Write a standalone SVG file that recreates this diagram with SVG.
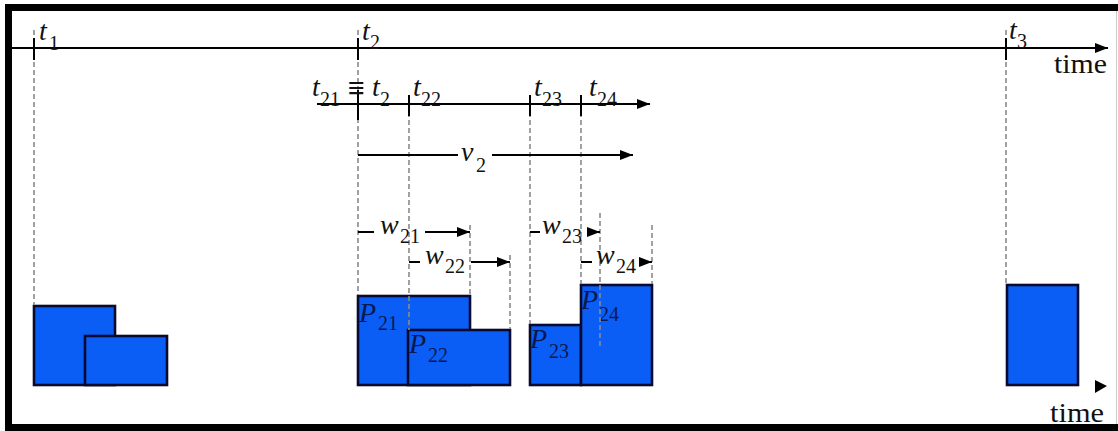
<svg xmlns="http://www.w3.org/2000/svg" width="1118" height="431" viewBox="0 0 1118 431">
<style>
.ax{stroke:#000;stroke-width:2;fill:none}
.tk{stroke:#000;stroke-width:2}
.ds{stroke:#8a8a8a;stroke-width:1.6;stroke-dasharray:5 3;fill:none}
.box{fill:#0b5ef5;stroke:#0a0a30;stroke-width:2.6}
text{font-family:"Liberation Serif","Times New Roman",Times,serif}
.it{font-style:italic;font-size:28px;fill:#111}
.sb{font-size:20px;fill:#111}
.rm{font-size:27px;fill:#111}
.eq{font-size:30px;font-weight:bold;fill:#111}
.pl{fill:#0a1850}
</style>
<defs>
<marker id="ah" markerUnits="userSpaceOnUse" markerWidth="14" markerHeight="10" refX="13" refY="5" orient="auto">
<path d="M0,0 L13,5 L0,10 z" fill="#000"/>
</marker>
</defs>
<rect x="0" y="0" width="1118" height="431" fill="#fff"/>

<g id="nodes">
<g id="box-t1a"><rect class="box" x="34" y="306" width="81" height="79"/></g>
<g id="box-t1b"><rect class="box" x="85" y="336" width="82" height="49"/></g>
<g id="P21"><rect class="box" x="358" y="296" width="112" height="89"/>
<text class="it pl" x="359" y="322">P</text><text class="sb pl" x="378" y="330">21</text></g>
<g id="P22"><rect class="box" x="408" y="330" width="102" height="55"/>
<text class="it pl" x="409" y="353">P</text><text class="sb pl" x="428" y="362">22</text></g>
<g id="P23"><rect class="box" x="530" y="325" width="51" height="60"/>
<text class="it pl" x="530" y="348">P</text><text class="sb pl" x="549" y="358">23</text></g>
<g id="P24"><rect class="box" x="581" y="285" width="71" height="100"/>
<text class="it pl" x="581" y="309">P</text><text class="sb pl" x="599" y="321">24</text></g>
<g id="box-t3"><rect class="box" x="1007" y="285" width="71" height="100"/></g>
</g>

<g id="connectors">
<line class="ax" x1="12" y1="48" x2="1108" y2="48" marker-end="url(#ah)"/>
<line class="ds" x1="34" y1="30" x2="34" y2="305"/>
<line class="ds" x1="358" y1="30" x2="358" y2="295"/>
<line class="ds" x1="1006" y1="30" x2="1006" y2="284"/>
<line class="ds" x1="409" y1="96" x2="409" y2="330"/>
<line class="ds" x1="530" y1="96" x2="530" y2="324"/>
<line class="ds" x1="581" y1="96" x2="581" y2="284"/>
<line class="ds" x1="470" y1="225" x2="470" y2="295"/>
<line class="ds" x1="510" y1="255" x2="510" y2="329"/>
<line class="ds" x1="600" y1="213" x2="600" y2="347"/>
<line class="ds" x1="652" y1="225" x2="652" y2="284"/>
<line class="tk" x1="34" y1="38" x2="34" y2="60"/>
<line class="tk" x1="358" y1="38" x2="358" y2="60"/>
<line class="tk" x1="1006" y1="38" x2="1006" y2="60"/>
<line class="ax" x1="317" y1="104" x2="650" y2="104" marker-end="url(#ah)"/>
<line class="tk" x1="358" y1="90" x2="358" y2="120"/>
<line class="tk" x1="409" y1="95" x2="409" y2="116"/>
<line class="tk" x1="530" y1="95" x2="530" y2="116"/>
<line class="tk" x1="581" y1="95" x2="581" y2="116"/>
<line class="ax" x1="358" y1="155" x2="458" y2="155"/>
<line class="ax" x1="492" y1="155" x2="633" y2="155" marker-end="url(#ah)"/>
<line class="ax" x1="358" y1="232" x2="374" y2="232"/>
<line class="ax" x1="425" y1="232" x2="470" y2="232" marker-end="url(#ah)"/>
<line class="ax" x1="409" y1="262" x2="420" y2="262"/>
<line class="ax" x1="471" y1="262" x2="510" y2="262" marker-end="url(#ah)"/>
<line class="ax" x1="530" y1="232" x2="540" y2="232"/>
<line class="ax" x1="588" y1="232" x2="600" y2="232" marker-end="url(#ah)"/>
<line class="ax" x1="581" y1="262" x2="592" y2="262"/>
<line class="ax" x1="640" y1="262" x2="652" y2="262" marker-end="url(#ah)"/>
<path d="M1095,380 L1107,386 L1095,393 z" fill="#000"/>
</g>

<g id="labels">
<text class="it" x="39" y="40">t</text><text class="sb" x="49" y="50">1</text>
<text class="it" x="362" y="40">t</text><text class="sb" x="370" y="49">2</text>
<text class="it" x="1009" y="39">t</text><text class="sb" x="1017" y="48">3</text>
<text class="rm" x="1054" y="73" textLength="53" lengthAdjust="spacingAndGlyphs">time</text>

<text class="it" x="312" y="96">t</text><text class="sb" x="320" y="106">21</text>
<text class="eq" x="348" y="98">≡</text>
<text class="it" x="372" y="96">t</text><text class="sb" x="380" y="106">2</text>
<text class="it" x="413" y="96">t</text><text class="sb" x="421" y="106">22</text>
<text class="it" x="534" y="96">t</text><text class="sb" x="542" y="106">23</text>
<text class="it" x="589" y="96">t</text><text class="sb" x="597" y="106">24</text>

<text class="it" x="461" y="161">v</text><text class="sb" x="476" y="172">2</text>
<text class="it" x="380" y="234">w</text><text class="sb" x="400" y="243">21</text>
<text class="it" x="425" y="264">w</text><text class="sb" x="445" y="273">22</text>
<text class="it" x="542" y="234">w</text><text class="sb" x="562" y="243">23</text>
<text class="it" x="596" y="264">w</text><text class="sb" x="616" y="273">24</text>

<text class="rm" x="1050" y="422" textLength="54" lengthAdjust="spacingAndGlyphs">time</text>
</g>

<g id="frame">
<rect x="5" y="4" width="1113" height="7" fill="#000"/>
<rect x="5" y="4" width="7" height="427" fill="#000"/>
<rect x="5" y="424" width="1113" height="7" fill="#000"/>
<line x1="1116.5" y1="11" x2="1116.5" y2="424" stroke="#ccc" stroke-width="1"/>
</g>
</svg>
